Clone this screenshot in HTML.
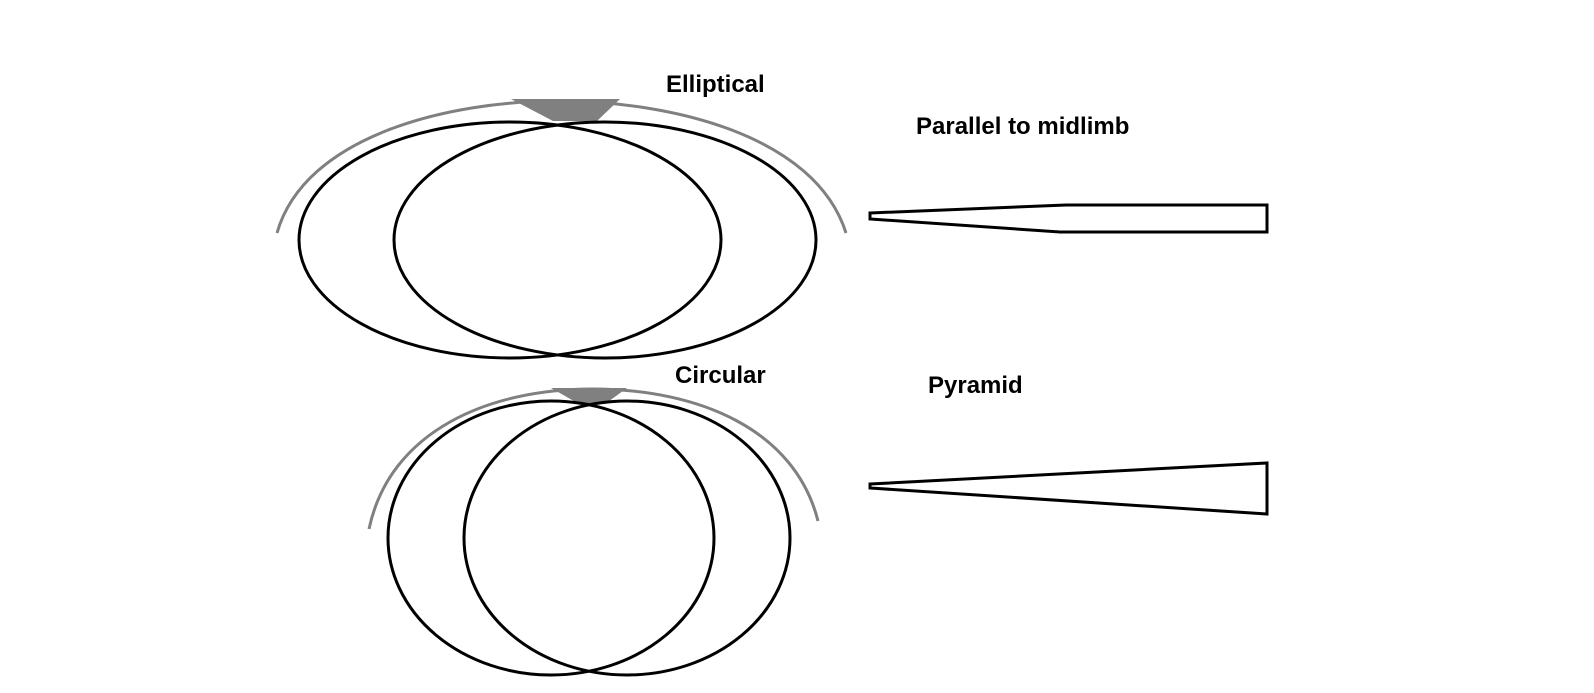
<!DOCTYPE html>
<html><head><style>
html,body{margin:0;padding:0;background:#fff;}
svg{display:block;}
text{font-family:"Liberation Sans",Arial,sans-serif;font-weight:bold;font-size:24px;fill:#000;}
</style></head><body>
<svg width="1594" height="693" viewBox="0 0 1594 693" xmlns="http://www.w3.org/2000/svg">
<!-- top -->
<path d="M277,233 C305,135 450,101 558,101 C670,101 815,135 846,233" fill="none" stroke="#808080" stroke-width="3"/>
<polygon points="511,99 620,99 597,121 553,121" fill="#808080"/>
<ellipse cx="510" cy="240" rx="211" ry="118" fill="none" stroke="#000" stroke-width="3"/>
<ellipse cx="605" cy="240" rx="211" ry="118" fill="none" stroke="#000" stroke-width="3"/>
<text x="666" y="92">Elliptical</text>
<text x="916" y="134">Parallel to midlimb</text>
<polygon points="870,213 1066,205 1267,205 1267,232 1060,232 870,219" fill="none" stroke="#000" stroke-width="3"/>
<!-- bottom -->
<path d="M369,529 C390,430 490,389 592,389 C700,389 795,430 818,521" fill="none" stroke="#808080" stroke-width="3"/>
<polygon points="551,388 627,388 605,404 579,404" fill="#808080"/>
<ellipse cx="551" cy="538" rx="163" ry="137" fill="none" stroke="#000" stroke-width="3"/>
<ellipse cx="627" cy="538" rx="163" ry="137" fill="none" stroke="#000" stroke-width="3"/>
<text x="675" y="383">Circular</text>
<text x="928" y="393">Pyramid</text>
<polygon points="870,484 1267,463 1267,514 870,488" fill="none" stroke="#000" stroke-width="3"/>
</svg>
</body></html>
